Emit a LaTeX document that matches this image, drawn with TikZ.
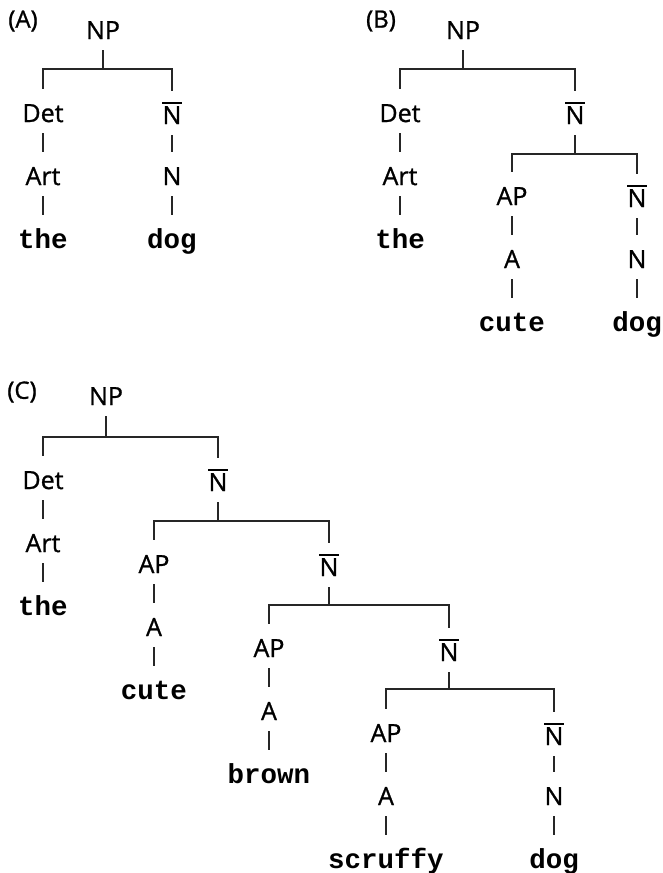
\documentclass[tikz,border=0pt]{standalone}
\usepackage{fontspec}
\setmainfont{Open Sans}[FakeBold=1]
\setmonofont{Liberation Mono}

% N with a bar over it
\newcommand{\barN}{\vbox{\hrule height 2pt\kern 2.5pt\hbox{\kern0.5pt N\kern0.5pt}}}

\begin{document}
\begin{tikzpicture}[
  x=1pt, y=-1pt,
  cat/.style={anchor=base, font=\fontsize{25}{28}\selectfont, text height=28pt, text depth=6pt, inner ysep=5pt, inner xsep=1pt},
  word/.style={cat, font=\ttfamily\bfseries\fontsize{27.5}{30}\selectfont},
  tag/.style={font=\fontsize{24}{26}\selectfont, inner sep=0pt},
  branch/.style={line width=1.1pt, draw=black!85}
]
  \useasboundingbox (0,0) rectangle (663,873);

  % --- ARBOL (A): the dog ---
  \node[tag] (tagA) at (23,21) {(A)};
  \node[cat] (npA)  at (103,39)  {NP};
  \coordinate (jA)  at (103,69);
  \node[cat] (detA) at (43,122)  {Det};
  \node[cat] (nbA)  at (172,124) {\barN};
  \node[cat] (artA) at (43,185)  {Art};
  \node[cat] (nA)   at (172,185) {N};
  \node[word] (theA) at (43,248)  {the};
  \node[word] (dogA) at (172,248) {dog};

  \draw[branch] (npA) -- (jA);
  \draw[branch] (detA) |- (jA) -| (nbA);
  \draw[branch] (detA) -- (artA) -- (theA);
  \draw[branch] (nbA) -- (nA) -- (dogA);

  % --- ARBOL (B): the cute dog ---
  \node[tag] (tagB) at (381,21) {(B)};
  \node[cat] (npB)  at (463,39)  {NP};
  \coordinate (jB)  at (463,69);
  \node[cat] (detB) at (400,122) {Det};
  \node[cat] (nbB)  at (575,124) {\barN};
  \node[cat] (artB) at (400,185) {Art};
  \node[word] (theB) at (400,248) {the};
  \coordinate (kB)  at (575,154);
  \node[cat] (apB)  at (512,205) {AP};
  \node[cat] (nb2B) at (637,207) {\barN};
  \node[cat] (aB)   at (512,268) {A};
  \node[cat] (nB)   at (637,268) {N};
  \node[word] (cuteB) at (512,331) {cute};
  \node[word] (dogB)  at (637,331) {dog};

  \draw[branch] (npB) -- (jB);
  \draw[branch] (detB) |- (jB) -| (nbB);
  \draw[branch] (detB) -- (artB) -- (theB);
  \draw[branch] (nbB) -- (kB);
  \draw[branch] (apB) |- (kB) -| (nb2B);
  \draw[branch] (apB) -- (aB) -- (cuteB);
  \draw[branch] (nb2B) -- (nB) -- (dogB);

  % --- ARBOL (C): the cute brown scruffy dog ---
  \node[tag] (tagC) at (22,392) {(C)};
  \node[cat] (npC)  at (106,405) {NP};
  \coordinate (jC)  at (106,437);
  \node[cat] (detC) at (43,489)  {Det};
  \node[cat] (nb1C) at (218,491) {\barN};
  \node[cat] (artC) at (43,552)  {Art};
  \node[word] (theC) at (43,615)  {the};

  % primer adjetivo
  \coordinate (kC)  at (218,521);
  \node[cat] (ap1C) at (154,573) {AP};
  \node[cat] (nb2C) at (329,576) {\barN};
  \node[cat] (a1C)  at (154,636) {A};
  \node[word] (cuteC) at (154,699) {cute};

  % segundo adjetivo
  \coordinate (lC)  at (329,605);
  \node[cat] (ap2C) at (269,657) {AP};
  \node[cat] (nb3C) at (449,661) {\barN};
  \node[cat] (a2C)  at (269,720) {A};
  \node[word] (brownC) at (269,783) {brown};

  % tercer adjetivo y nucleo
  \coordinate (mC)  at (449,689);
  \node[cat] (ap3C) at (386,742) {AP};
  \node[cat] (nb4C) at (554,745) {\barN};
  \node[cat] (a3C)  at (386,805) {A};
  \node[cat] (nC)   at (554,805) {N};
  \node[word] (scruffyC) at (386,868) {scruffy};
  \node[word] (dogC)     at (554,868) {dog};

  \draw[branch] (npC) -- (jC);
  \draw[branch] (detC) |- (jC) -| (nb1C);
  \draw[branch] (detC) -- (artC) -- (theC);
  \draw[branch] (nb1C) -- (kC);
  \draw[branch] (ap1C) |- (kC) -| (nb2C);
  \draw[branch] (ap1C) -- (a1C) -- (cuteC);
  \draw[branch] (nb2C) -- (lC);
  \draw[branch] (ap2C) |- (lC) -| (nb3C);
  \draw[branch] (ap2C) -- (a2C) -- (brownC);
  \draw[branch] (nb3C) -- (mC);
  \draw[branch] (ap3C) |- (mC) -| (nb4C);
  \draw[branch] (ap3C) -- (a3C) -- (scruffyC);
  \draw[branch] (nb4C) -- (nC) -- (dogC);
\end{tikzpicture}
\end{document}
